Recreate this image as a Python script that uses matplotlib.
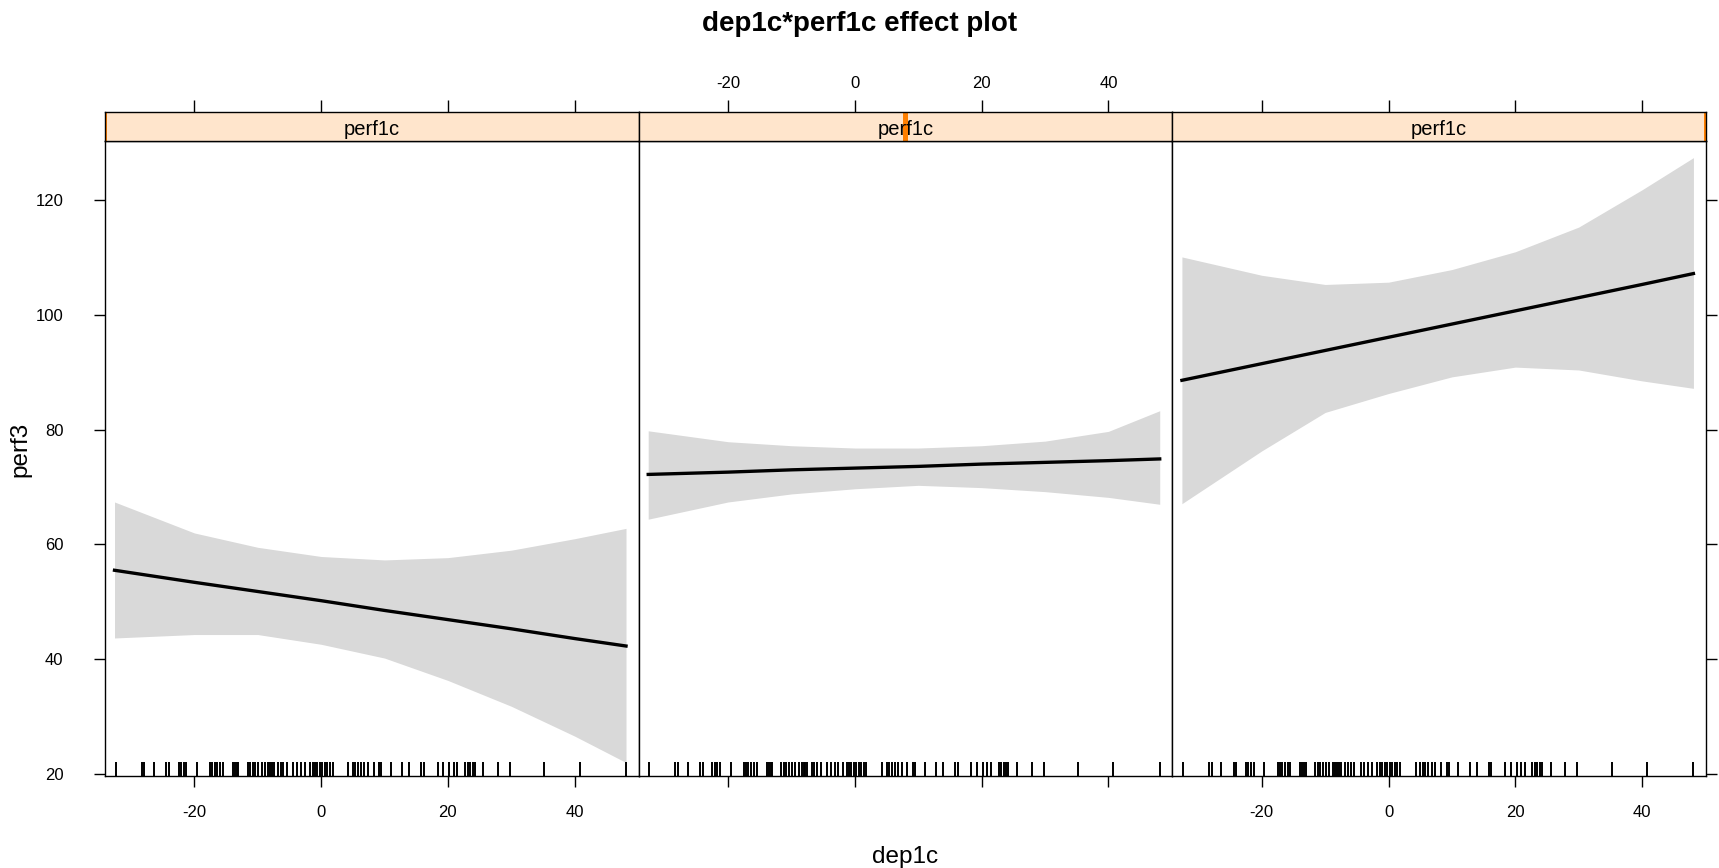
import matplotlib
matplotlib.use('Agg')
import matplotlib.pyplot as plt
from matplotlib.patches import Rectangle

plt.rcParams['font.family'] = ['Liberation Sans', 'DejaVu Sans']
plt.rcParams['axes.unicode_minus'] = False

# dep1c grid where the fit and the band were read
dep_grid = [-32.6, -20, -10, 0, 10, 20, 30, 40, 48.1]

# panel 1 (low perf1c)
fit1 = [55.5, 53.4, 51.8, 50.2, 48.5, 46.9, 45.3, 43.6, 42.3]
upper1 = [67.4, 62.0, 59.5, 57.9, 57.3, 57.7, 59.0, 61.0, 62.8]
lower1 = [43.7, 44.3, 44.3, 42.6, 40.2, 36.3, 31.8, 26.6, 22.0]

# panel 2 (middle perf1c)
fit2 = [72.2, 72.6, 73.0, 73.3, 73.6, 74.0, 74.3, 74.6, 74.9]
upper2 = [79.8, 77.9, 77.2, 76.8, 76.8, 77.2, 78.0, 79.7, 83.3]
lower2 = [64.4, 67.4, 68.8, 69.7, 70.3, 69.9, 69.2, 68.2, 67.0]

# panel 3 (high perf1c)
fit3 = [88.6, 91.5, 93.8, 96.1, 98.4, 100.7, 103.0, 105.3, 107.2]
upper3 = [110.1, 106.9, 105.3, 105.7, 107.9, 111.0, 115.3, 121.8, 127.4]
lower3 = [67.1, 76.3, 83.0, 86.3, 89.2, 90.9, 90.4, 88.5, 87.2]

# observed dep1c values (rug)
rug = [-32.4, -28.3, -27.9, -26.4, -24.4, -24.0, -22.5, -22.1, -21.7, -21.3,
       -19.6, -17.5, -17.2, -16.8, -16.4, -15.9, -15.5, -13.9, -13.6, -13.3,
       -13.1, -11.6, -11.2, -10.8, -10.4, -9.9, -9.4, -8.8, -8.4, -8.1, -7.8,
       -7.5, -6.8, -6.4, -6.0, -5.4, -4.4, -3.8, -3.2, -2.6, -1.8, -1.3, -1.0,
       -0.6, -0.2, 0.2, 0.6, 1.0, 1.4, 1.8, 4.3, 5.0, 5.4, 5.8, 6.3, 6.8, 7.4,
       8.3, 9.2, 9.5, 11.0, 12.8, 13.9, 15.8, 16.2, 18.4, 19.3, 20.2, 20.9,
       21.5, 22.7, 23.1, 23.5, 23.9, 24.2, 25.6, 27.9, 29.8, 35.2, 40.8, 48.1]

# where the perf1c level sits in its strip (fraction of width)
strip_pos = [0.0, 0.5, 1.0]
strip_label = 'perf1c'

xticks = [-20, 0, 20, 40]
yticks = [20, 40, 60, 80, 100, 120]

panels = [(fit1, upper1, lower1), (fit2, upper2, lower2), (fit3, upper3, lower3)]

W, H = 1719, 868
fig = plt.figure(figsize=(W / 100, H / 100), dpi=100)

left0 = 105 / W
pw = 533.7 / W
pb = 1 - 776 / H
ph = (776 - 141) / H
sb = 1 - 141 / H
sh = 29 / H

for i, (fit, up, lo) in enumerate(panels):
    ax = fig.add_axes([left0 + i * pw, pb, pw, ph])
    st = fig.add_axes([left0 + i * pw, sb, pw, sh], sharex=ax)

    ax.fill_between(dep_grid, lo, up, color='#d9d9d9', lw=0)
    ax.plot(dep_grid, fit, color='black', lw=2.4)
    ax.vlines(rug, 0, 0.022, color='black', lw=1.4,
              transform=ax.get_xaxis_transform())

    ax.set_xlim(-34.1, 50.1)
    ax.set_ylim(19.65, 130.3)
    ax.set_xticks(xticks)
    ax.set_yticks(yticks)
    for s in ax.spines.values():
        s.set_linewidth(1.0)

    ax.tick_params(axis='x', direction='out', length=8, width=1.0,
                   labelsize=12, pad=13, top=False,
                   labelbottom=(i != 1))
    ax.tick_params(axis='y', direction='out', length=8, width=1.0,
                   labelsize=12, pad=22, left=(i == 0), labelleft=(i == 0),
                   right=(i == 2), labelright=False)

    # strip
    st.set_facecolor('#ffe5cc')
    st.set_ylim(0, 1)
    st.set_yticks([])
    for s in st.spines.values():
        s.set_linewidth(1.0)
    st.tick_params(axis='x', direction='out', length=9, width=1.0,
                   labelsize=12, pad=6, bottom=False, labelbottom=False,
                   top=True, labeltop=(i == 1))
    st.add_patch(Rectangle((strip_pos[i] - 0.0045, 0), 0.009, 1,
                           transform=st.transAxes, color='#ff7f00', lw=0,
                           clip_on=True))
    st.text(0.5, 0.4, strip_label, transform=st.transAxes, ha='center',
            va='center', fontsize=14.5)

fig.text(0.5, 1 - 24 / H, 'dep1c*perf1c effect plot', ha='center',
         va='center', fontsize=20, fontweight='bold')
fig.text(905.5 / W, 1 - 857 / H, 'dep1c', ha='center', va='center',
         fontsize=17.5)
fig.text(20 / W, 1 - 449 / H, 'perf3', ha='center', va='center',
         rotation=90, fontsize=17.5)

fig.savefig('out.png', dpi=100)
